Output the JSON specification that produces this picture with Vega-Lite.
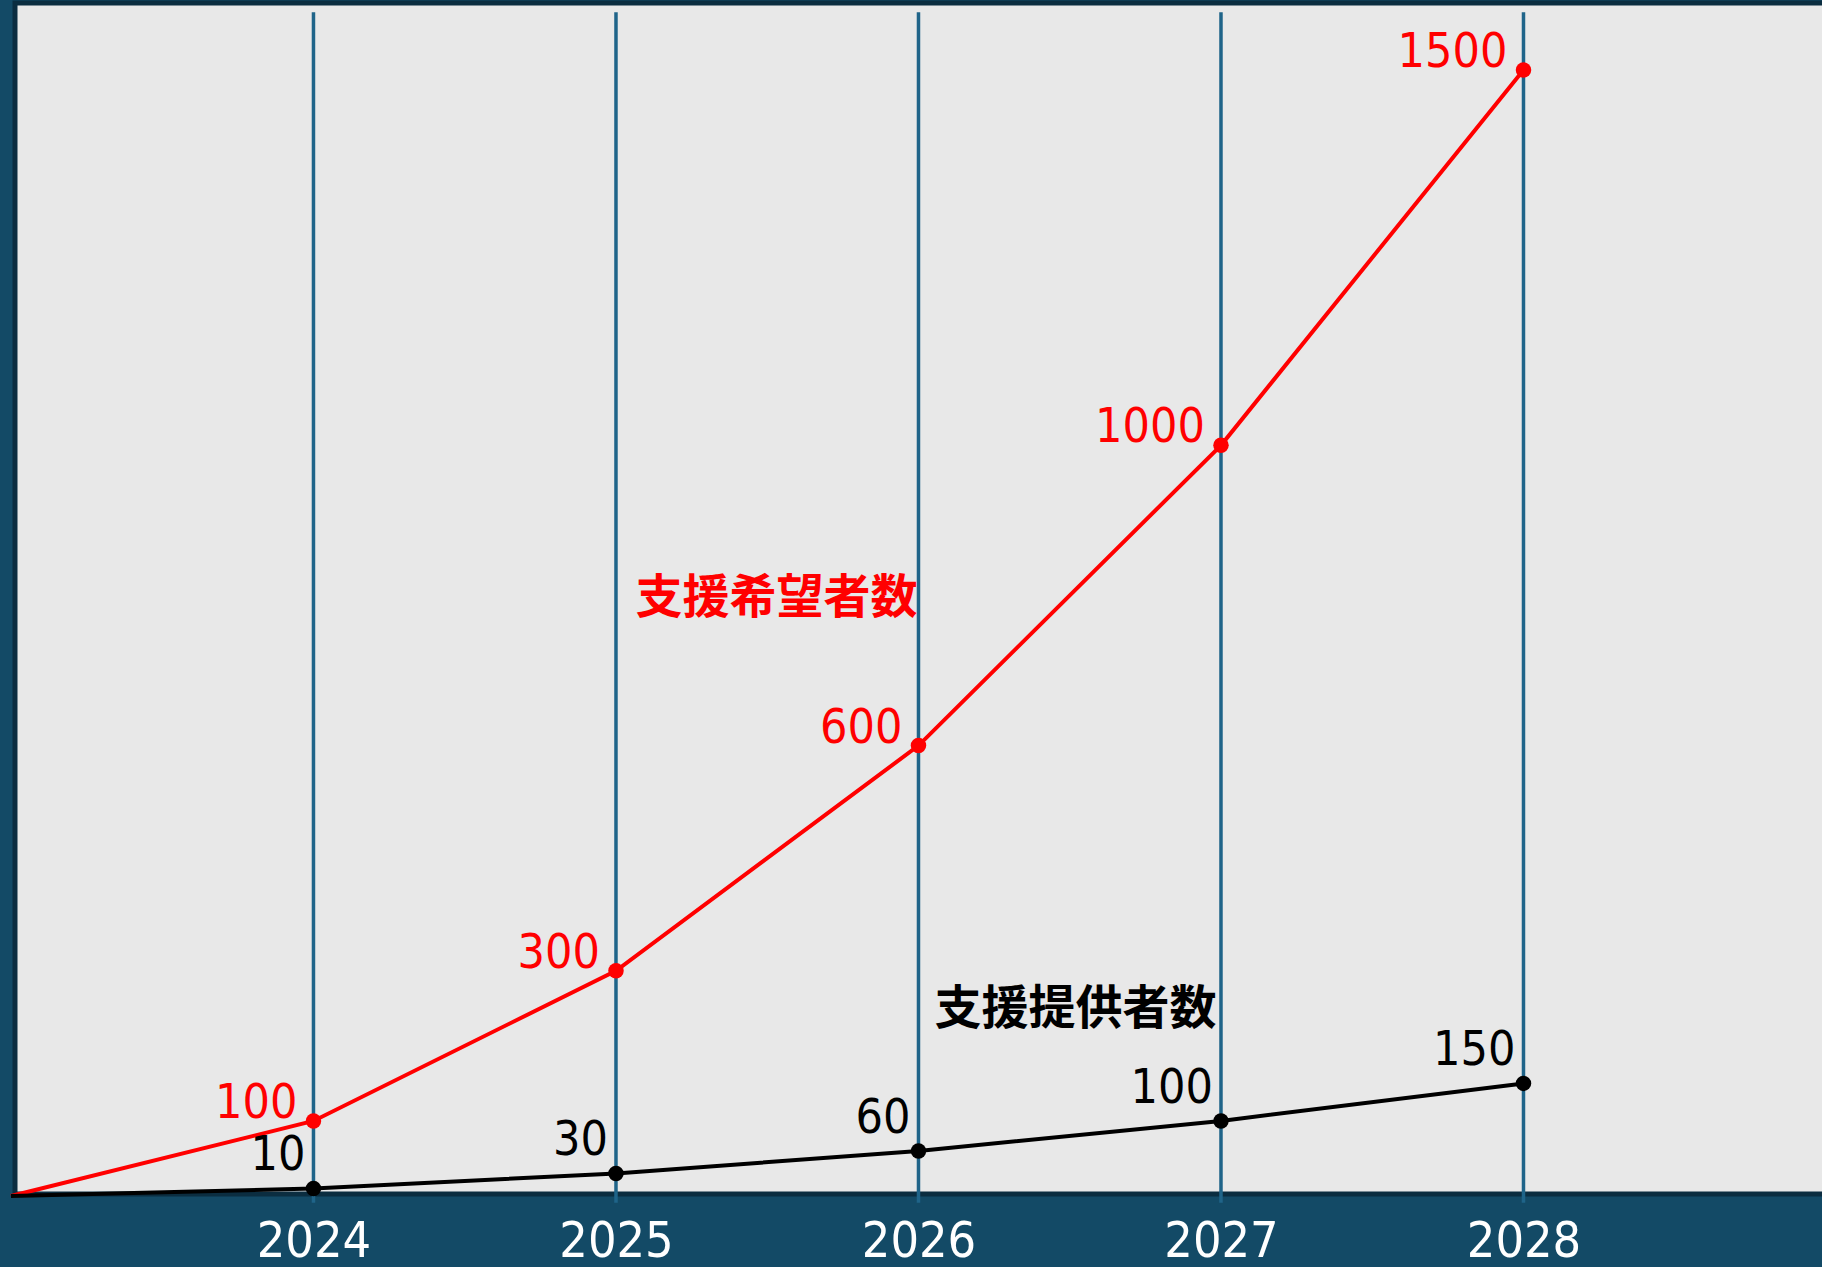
{
  "$schema": "https://vega.github.io/schema/vega-lite/v6.json",
  "autosize": {"type": "none"},
  "width": 1807,
  "height": 1191,
  "padding": {"left": 15, "top": 3, "right": 0, "bottom": 73},
  "background": "#134a66",
  "config": {
    "view": {"fill": "#e8e8e8", "stroke": null},
    "axisX": {
      "labelColor": "#ffffff",
      "labelFont": "DejaVu Sans Condensed, Roboto, sans-serif",
      "labelFontSize": 50,
      "labelPadding": 22,
      "ticks": false,
      "domain": false,
      "grid": false,
      "title": null
    }
  },
  "datasets": {
    "series": [
      {"series": "支援希望者数", "year": 2023, "value": 0},
      {"series": "支援希望者数", "year": 2024, "value": 100},
      {"series": "支援希望者数", "year": 2025, "value": 300},
      {"series": "支援希望者数", "year": 2026, "value": 600},
      {"series": "支援希望者数", "year": 2027, "value": 1000},
      {"series": "支援希望者数", "year": 2028, "value": 1500},
      {"series": "支援提供者数", "year": 2023, "value": 0},
      {"series": "支援提供者数", "year": 2024, "value": 10},
      {"series": "支援提供者数", "year": 2025, "value": 30},
      {"series": "支援提供者数", "year": 2026, "value": 60},
      {"series": "支援提供者数", "year": 2027, "value": 100},
      {"series": "支援提供者数", "year": 2028, "value": 150}
    ],
    "years": [
      {"year": 2024}, {"year": 2025}, {"year": 2026}, {"year": 2027}, {"year": 2028}
    ]
  },
  "layer": [
    {
      "data": {"values": [{"frame": 1}]},
      "mark": {"type": "rect", "fill": "transparent", "stroke": "#0b2d40", "strokeWidth": 5},
      "encoding": {
        "x": {
          "datum": 2023.0133, "type": "quantitative",
          "scale": {"domain": [2023.0133, 2028.9868], "nice": false, "zero": false},
          "axis": {"values": [2024, 2025, 2026, 2027, 2028], "format": "d", "title": null}
        },
        "x2": {"datum": 2030},
        "y": {
          "datum": 1589.2, "type": "quantitative",
          "scale": {"domain": [2.66, 1589.2], "nice": false, "zero": false},
          "axis": null
        },
        "y2": {"datum": 2.66}
      }
    },
    {
      "data": {"name": "years"},
      "mark": {"type": "rule", "color": "#1f6489", "strokeWidth": 3.5},
      "encoding": {
        "x": {"field": "year", "type": "quantitative", "axis": {"values": [2024, 2025, 2026, 2027, 2028], "format": "d", "title": null}},
        "y": {"datum": 1577, "type": "quantitative", "axis": null},
        "y2": {"datum": -9}
      }
    },
    {
      "data": {"name": "series"},
      "mark": {"type": "line", "strokeWidth": 4},
      "encoding": {
        "x": {"field": "year", "type": "quantitative", "axis": {"values": [2024, 2025, 2026, 2027, 2028], "format": "d", "title": null}},
        "y": {"field": "value", "type": "quantitative", "axis": null},
        "color": {
          "field": "series", "type": "nominal",
          "scale": {"domain": ["支援希望者数", "支援提供者数"], "range": ["#ff0000", "#000000"]},
          "legend": null
        }
      }
    },
    {
      "data": {"name": "series"},
      "transform": [{"filter": "datum.year >= 2024"}],
      "mark": {"type": "point", "filled": true, "size": 240, "opacity": 1},
      "encoding": {
        "x": {"field": "year", "type": "quantitative", "axis": {"values": [2024, 2025, 2026, 2027, 2028], "format": "d", "title": null}},
        "y": {"field": "value", "type": "quantitative", "axis": null},
        "color": {
          "field": "series", "type": "nominal",
          "scale": {"domain": ["支援希望者数", "支援提供者数"], "range": ["#ff0000", "#000000"]},
          "legend": null
        }
      }
    },
    {
      "data": {"name": "series"},
      "transform": [{"filter": "datum.year >= 2024 && datum.series == '支援希望者数'"}],
      "mark": {"type": "text", "align": "right", "baseline": "alphabetic", "dx": -16, "dy": -3, "fontSize": 48, "font": "DejaVu Sans Condensed, Roboto, sans-serif", "color": "#ff0000"},
      "encoding": {
        "x": {"field": "year", "type": "quantitative", "axis": {"values": [2024, 2025, 2026, 2027, 2028], "format": "d", "title": null}},
        "y": {"field": "value", "type": "quantitative", "axis": null},
        "text": {"field": "value", "type": "quantitative", "format": "d"}
      }
    },
    {
      "data": {"name": "series"},
      "transform": [{"filter": "datum.year >= 2024 && datum.series == '支援提供者数'"}],
      "mark": {"type": "text", "align": "right", "baseline": "alphabetic", "dx": -8, "dy": -18, "fontSize": 48, "font": "DejaVu Sans Condensed, Roboto, sans-serif", "color": "#000000"},
      "encoding": {
        "x": {"field": "year", "type": "quantitative", "axis": {"values": [2024, 2025, 2026, 2027, 2028], "format": "d", "title": null}},
        "y": {"field": "value", "type": "quantitative", "axis": null},
        "text": {"field": "value", "type": "quantitative", "format": "d"}
      }
    },
    {
      "data": {"values": [{"label": "支援希望者数"}]},
      "mark": {"type": "text", "align": "center", "baseline": "middle", "fontSize": 47, "fontWeight": "bold", "font": "Noto Sans CJK JP", "color": "#ff0000"},
      "encoding": {
        "x": {"datum": 2025.531, "type": "quantitative", "axis": {"values": [2024, 2025, 2026, 2027, 2028], "format": "d", "title": null}},
        "y": {"datum": 795, "type": "quantitative", "axis": null},
        "text": {"field": "label"}
      }
    },
    {
      "data": {"values": [{"label": "支援提供者数"}]},
      "mark": {"type": "text", "align": "center", "baseline": "middle", "fontSize": 47, "fontWeight": "bold", "font": "Noto Sans CJK JP", "color": "#000000"},
      "encoding": {
        "x": {"datum": 2026.519, "type": "quantitative", "axis": {"values": [2024, 2025, 2026, 2027, 2028], "format": "d", "title": null}},
        "y": {"datum": 248, "type": "quantitative", "axis": null},
        "text": {"field": "label"}
      }
    }
  ]
}
